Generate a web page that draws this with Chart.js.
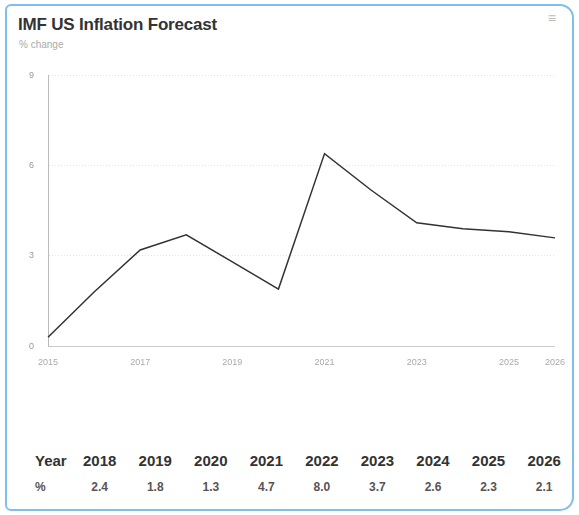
<!DOCTYPE html>
<html>
<head>
<meta charset="utf-8">
<script src="https://cdn.jsdelivr.net/npm/chart.js@4"></script>
<style>
  body { margin:0; background:#fff; font-family:"Liberation Sans", Arial, sans-serif; }
  .card { position:absolute; left:5px; top:4px; width:569px; height:507px; border:2px solid #7fc0ea; border-radius:6px 14px 14px 6px; box-sizing:border-box; background:#fff; }
  .title { position:absolute; left:11px; top:9px; font-size:17px; font-weight:bold; color:#333; letter-spacing:-0.2px; }
  .sub { position:absolute; left:12px; top:33px; font-size:10px; color:#aaa; }
  .menu { position:absolute; right:16px; top:4px; font-size:14px; color:#bbb; }
  .wrap { position:absolute; left:8px; top:50px; width:553px; height:315px; }
  table { position:absolute; left:26px; top:446px; border-collapse:collapse; color:#333; }
  th { font-size:15px; font-weight:bold; padding:0 5px; text-align:center; width:48px; }
  th:first-child, td:first-child { width:32px; text-align:left; padding-left:2px; }
  td { font-size:12px; font-weight:bold; padding:11px 5px 0; text-align:center; color:#555; }
</style>
</head>
<body>
<div class="card">
  <div class="title">IMF US Inflation Forecast</div>
  <div class="sub">% change</div>
  <div class="menu">≡</div>
  <div class="wrap"><canvas id="line"></canvas></div>
  <table id="tbl"></table>
</div>
<script>
// line data
const years = ["2015","2016","2017","2018","2019","2020","2021","2022","2023","2024","2025","2026"];
const rate = [0.3, 1.8, 3.2, 3.7, 2.8, 1.9, 6.4, 5.2, 4.1, 3.9, 3.8, 3.6];
const yTicks = [0, 3, 6, 9];

// table under the chart
const tableYears = ["2018","2019","2020","2021","2022","2023","2024","2025","2026"];
const tableVals = ["2.4","1.8","1.3","4.7","8.0","3.7","2.6","2.3","2.1"];

const tbl = document.getElementById("tbl");
tbl.innerHTML =
  "<tr><th>Year</th>" + tableYears.map(y => "<th>" + y + "</th>").join("") + "</tr>" +
  "<tr><td>%</td>" + tableVals.map(v => "<td>" + v + "</td>").join("") + "</tr>";

new Chart(document.getElementById("line"), {
  type:"line",
  data:{
    labels:years,
    datasets:[{
      data:rate,
      borderColor:"#333",
      borderWidth:1.5,
      pointRadius:0,
      tension:0
    }]
  },
  options:{
    responsive:true,
    maintainAspectRatio:false,
    animation:false,
    layout:{padding:{top:6,right:4}},
    plugins:{legend:{display:false},tooltip:{enabled:false}},
    scales:{
      x:{
        grid:{display:false},
        border:{color:"#ccc",dash:[2,3]},
        ticks:{color:"#aaa",font:{size:9},maxRotation:0,autoSkip:false,
          callback:(v,i)=> i % 2 === 0 || i === years.length-1 ? years[i] : ""}
      },
      y:{
        min:0,max:9,
        afterBuildTicks:ax=>{ax.ticks = yTicks.map(v=>({value:v}));},
        grid:{color:"#e4e4e4",tickLength:0},
        border:{color:"#bbb",dash:[1,2]},
        ticks:{color:"#999",font:{size:9},padding:14}
      }
    }
  }
});
</script>
</body>
</html>
